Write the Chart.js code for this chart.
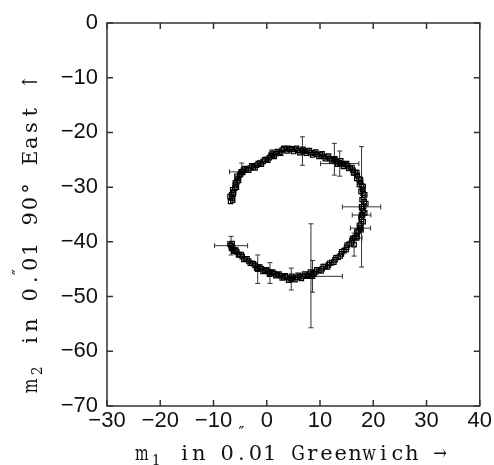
<!DOCTYPE html>
<html>
<head>
<meta charset="utf-8">
<script src="https://cdn.jsdelivr.net/npm/chart.js@4"></script>
<style>
  html, body { margin: 0; padding: 0; background: #fff; }
  #wrap { width: 494px; height: 465px; }
</style>
</head>
<body>
<div id="wrap"><canvas id="canvasDiv"></canvas></div>
<script>
//axis setup
var xTicks = [-30, -20, -10, 0, 10, 20, 30, 40];
var yTicks = [-70, -60, -50, -40, -30, -20, -10, 0];
var xTitle = "m\u2081 in 0.\u203301 Greenwich \u2192";
var yTitle = "m\u2082 in 0.\u203301 90\u00b0 East \u2191";

//pole track (0.01 arcsec)
var m1 = [-6.8, -6.5, -6.6, -6.2, -6.0, -5.9, -5.6, -5.4, -5.1, -4.8, -4.4,
  -3.8, -3.1, -2.5, -1.9, -1.3, -0.7, -0.1, 0.5, 1.1, 1.7, 2.3, 2.9, 3.5,
  4.1, 4.7, 5.3, 5.9, 6.5, 7.1, 7.7, 8.3, 8.9, 9.5, 10.1, 10.7, 11.3, 11.9,
  12.5, 13.0, 13.6, 14.1, 14.7, 15.2, 15.7, 16.2, 16.6, 17.0, 17.3, 17.6,
  17.8, 18.0, 18.1, 18.2, 18.3, 18.2, 18.1, 18.0, 17.8, 17.7, 17.5, 17.2,
  16.9, 16.5, 16.0, 15.5, 15.0, 14.5, 14.0, 13.4, 12.8, 12.2, 11.6, 11.0,
  10.4, 9.8, 9.2, 8.6, 8.0, 7.4, 6.8, 6.2, 5.6, 5.0, 4.4, 3.8, 3.2, 2.6,
  2.0, 1.4, 0.8, 0.2, -0.4, -1.0, -1.6, -2.2, -2.8, -3.4, -4.0, -4.6, -5.1,
  -5.6, -6.0, -6.4, -6.7, -6.5];
var m2 = [-32.6, -32.0, -31.4, -30.9, -30.2, -29.6, -29.0, -28.4, -27.8, -27.2, -26.9,
  -26.8, -26.5, -26.3, -26.0, -25.6, -25.3, -24.9, -24.6, -24.2, -23.9, -23.6, -23.2, -23.0,
  -22.9, -23.0, -23.1, -23.3, -23.3, -23.5, -23.4, -23.7, -23.8, -24.0, -24.1, -24.4, -24.5, -24.8,
  -25.0, -25.3, -25.5, -25.7, -25.9, -26.1, -26.5, -26.9, -27.4, -27.9, -28.5, -29.1,
  -29.7, -30.4, -31.1, -31.9, -32.7, -33.5, -34.3, -35.1, -35.9, -36.7, -37.4, -38.0,
  -38.6, -39.2, -39.8, -40.4, -41.0, -41.6, -42.2, -42.8, -43.3, -43.8, -44.2, -44.5,
  -44.9, -45.2, -45.5, -45.7, -45.9, -46.1, -46.3, -46.4, -46.5, -46.6, -46.7, -46.5, -46.4, -46.2,
  -46.0, -45.8, -45.6, -45.4, -45.2, -44.9, -44.6, -44.3, -43.9, -43.5, -43.1, -42.7, -42.3,
  -41.9, -41.5, -41.1, -40.7, -40.3];

//in-between epochs, same track
var m1b = [-6.4, -6.9, -6.3, -6.4, -5.7, -5.9, -5.3, -5.6, -4.9, -4.5, -4.1,
  -3.4, -2.8, -2.2, -1.6, -1.0, -0.4, 0.2, 0.8, 1.4, 2.0, 2.6, 3.2, 3.8,
  4.4, 5.0, 5.6, 6.2, 6.8, 7.4, 8.0, 8.6, 9.2, 9.8, 10.4, 11.0, 11.6, 12.2,
  12.8, 13.3, 13.9, 14.4, 15.0, 15.4, 16.0, 16.3, 16.9, 16.9, 17.6, 17.4,
  18.1, 17.7, 18.4, 17.9, 18.6, 17.9, 18.4, 17.7, 18.1, 17.4, 17.7, 16.9,
  17.0, 16.1, 15.9, 15.1, 14.9, 14.1, 13.8, 13.0, 12.6, 11.8, 11.4, 10.6,
  10.2, 9.4, 8.9, 8.2, 7.7, 7.1, 6.5, 5.9, 5.3, 4.7, 4.1, 3.5, 2.9, 2.3,
  1.7, 1.1, 0.5, -0.1, -0.7, -1.3, -1.9, -2.5, -3.1, -3.7, -4.3, -4.8, -5.3,
  -5.8, -6.2, -6.6, -6.9];
var m2b = [-32.4, -31.7, -31.3, -30.5, -30.0, -29.2, -28.8, -28.0, -27.6, -27.3, -26.6,
  -26.9, -26.1, -26.5, -25.7, -25.8, -25.0, -25.1, -24.2, -24.4, -23.5, -23.8, -22.9, -23.4,
  -23.1, -23.5, -22.9, -23.7, -23.1, -23.8, -23.3, -24.1, -23.6, -24.4, -23.9, -24.8, -24.3, -25.2,
  -24.8, -25.8, -25.2, -26.2, -25.7, -26.6, -26.4, -27.4, -27.3, -28.4, -28.6, -29.5,
  -29.9, -30.8, -31.4, -32.3, -33.0, -33.9, -34.7, -35.5, -36.3, -37.0, -37.8, -38.2,
  -39.0, -39.4, -40.2, -40.6, -41.4, -41.8, -42.6, -42.9, -43.7, -43.9, -44.6, -44.5,
  -45.3, -45.1, -45.9, -45.5, -46.3, -45.9, -46.7, -46.1, -46.9, -46.3, -47.0, -46.2, -46.6, -45.9,
  -46.2, -45.5, -45.9, -45.1, -45.4, -44.6, -44.8, -44.0, -43.9, -43.1, -43.2, -42.3, -42.4,
  -41.5, -41.7, -41.2, -40.4];

//error bars: point, minus/plus extents
var errX = [6.7, 12.7, 13.7, 17.8, 17.8, 17.6, 16.9, 8.3, 8.6, -6.7, -1.7, 0.6, 4.6, -4.7, 1.0, 16.4];
var errY = [-23.4, -24.9, -25.7, -33.6, -35.1, -37.5, -39.3, -46.2, -46.3, -40.7, -45.0, -45.7, -46.8, -27.2, -23.8, -40.5];
var errXm = [0, 0, 3.6, 3.6, 1.75, 1.9, 1.0, 0, 0.6, 3.1, 0, 0, 0, 2.3, 0, 0];
var errXp = [0, 0, 3.6, 3.6, 1.75, 1.9, 1.0, 0, 5.6, 3.1, 0, 0, 0, 0.5, 0, 0];
var errYm = [2.6, 2.9, 2.3, 11.0, 0, 0, 0, 9.5, 2.9, 1.7, 2.6, 1.9, 2.0, 0.3, 0.6, 2.1];
var errYp = [2.6, 2.9, 2.3, 11.0, 0, 0, 0, 9.5, 2.9, 1.7, 2.6, 1.9, 2.0, 1.6, 0.6, 2.1];

var track = [];
for (let i = 0; i < m1.length; i++) track.push({ x: m1[i], y: m2[i] });
for (let i = 0; i < m1b.length; i++) track.push({ x: m1b[i], y: m2b[i] });
var errPts = [];
for (let i = 0; i < errX.length; i++) errPts.push({ x: errX[i], y: errY[i] });

function minus(v) {
  return String(v).replace("-", "\u2212");
}

//typewriter look: serif glyphs set in fixed cells
function drawMono(ctx, text, cx, base, pitch, size, raise, shift) {
  const chars = Array.from(text);
  const cells = chars.filter((c) => c != "\u2033").length;
  let x = cx - (cells * pitch) / 2;
  const face = "'DejaVu Serif', 'Liberation Serif', serif";
  chars.forEach((c) => {
    let s = size;
    let dy = 0;
    let ch = c;
    let adv = pitch;
    let cxCell = x + pitch / 2;
    if (c == "\u2081" || c == "\u2082") {
      ch = c == "\u2081" ? "1" : "2";
      s = size * 0.66;
      dy = 5;
    }
    if (c == "\u2033") {
      s = size * 0.75;
      dy = -raise;
      adv = 0;
      cxCell = x + shift;
    }
    ctx.font = s + "px " + face;
    const w = ctx.measureText(ch).width;
    ctx.save();
    ctx.translate(cxCell, base + dy);
    if (w > pitch * 0.96) ctx.scale((pitch * 0.96) / w, 1);
    ctx.fillText(ch, 0, 0);
    ctx.restore();
    x += adv;
  });
}

//frame, inward ticks, error bars, titles
const framePlugin = {
  id: "frame",
  beforeDatasetsDraw(chart) {
    const ctx = chart.ctx;
    const xs = chart.scales.x;
    const ys = chart.scales.y;
    ctx.save();
    ctx.strokeStyle = "#333";
    ctx.lineWidth = 1;
    const cap = 2.5;
    for (let i = 0; i < errX.length; i++) {
      const px = xs.getPixelForValue(errX[i]);
      const py = ys.getPixelForValue(errY[i]);
      if (errXm[i] || errXp[i]) {
        const x0 = xs.getPixelForValue(errX[i] - errXm[i]);
        const x1 = xs.getPixelForValue(errX[i] + errXp[i]);
        ctx.beginPath();
        ctx.moveTo(x0, py); ctx.lineTo(x1, py);
        ctx.moveTo(x0, py - cap); ctx.lineTo(x0, py + cap);
        ctx.moveTo(x1, py - cap); ctx.lineTo(x1, py + cap);
        ctx.stroke();
      }
      if (errYm[i] || errYp[i]) {
        const y0 = ys.getPixelForValue(errY[i] - errYm[i]);
        const y1 = ys.getPixelForValue(errY[i] + errYp[i]);
        ctx.beginPath();
        ctx.moveTo(px, y0); ctx.lineTo(px, y1);
        ctx.moveTo(px - cap, y0); ctx.lineTo(px + cap, y0);
        ctx.moveTo(px - cap, y1); ctx.lineTo(px + cap, y1);
        ctx.stroke();
      }
    }
    ctx.restore();
  },
  afterDraw(chart) {
    const ctx = chart.ctx;
    const a = chart.chartArea;
    const xs = chart.scales.x;
    const ys = chart.scales.y;
    const tl = 6;
    ctx.save();
    ctx.strokeStyle = "#333";
    ctx.lineWidth = 1.5;
    ctx.strokeRect(a.left, a.top, a.right - a.left, a.bottom - a.top);
    ctx.beginPath();
    xTicks.forEach((v) => {
      const p = xs.getPixelForValue(v);
      ctx.moveTo(p, a.bottom); ctx.lineTo(p, a.bottom - tl);
      ctx.moveTo(p, a.top); ctx.lineTo(p, a.top + tl);
    });
    yTicks.forEach((v) => {
      const p = ys.getPixelForValue(v);
      ctx.moveTo(a.left, p); ctx.lineTo(a.left + tl, p);
      ctx.moveTo(a.right, p); ctx.lineTo(a.right - tl, p);
    });
    ctx.stroke();

    ctx.fillStyle = "#111";
    ctx.textAlign = "center";
    ctx.textBaseline = "alphabetic";
    drawMono(ctx, xTitle, 291, 460, 14.2, 21, 22, -7);
    ctx.translate(37, 234);
    ctx.rotate(-Math.PI / 2);
    drawMono(ctx, yTitle, 0, 0, 15.2, 21, 13, 0);
    ctx.restore();
  },
};

var chart = new Chart(document.getElementById("canvasDiv"), {
  type: "scatter",
  data: {
    datasets: [
      {
        label: "track",
        data: track,
        pointStyle: "rect",
        pointRadius: 3.1,
        borderWidth: 1.2,
        borderColor: "#000",
        backgroundColor: "rgba(255,255,255,0)",
      },
      {
        label: "err",
        data: errPts,
        pointStyle: "rect",
        pointRadius: 3.1,
        borderWidth: 1.2,
        borderColor: "#000",
        backgroundColor: "rgba(255,255,255,0)",
      },
    ],
  },
  options: {
    responsive: true,
    maintainAspectRatio: false,
    animation: false,
    layout: { padding: { top: 23, right: 13, left: 0, bottom: 0 } },
    plugins: { legend: { display: false }, tooltip: { enabled: false } },
    scales: {
      x: {
        type: "linear",
        min: -30,
        max: 40,
        grid: { display: false, drawTicks: false },
        border: { display: false },
        afterFit: (s) => { s.height = 59; },
        afterBuildTicks: (s) => { s.ticks = xTicks.map((v) => ({ value: v })); },
        ticks: {
          padding: 2,
          color: "#111",
          font: { family: "'Liberation Sans', Arial, sans-serif", size: 22 },
          callback: (v) => minus(v),
        },
      },
      y: {
        type: "linear",
        min: -70,
        max: 0,
        grid: { display: false, drawTicks: false },
        border: { display: false },
        afterFit: (s) => { s.width = 107; },
        afterBuildTicks: (s) => { s.ticks = yTicks.map((v) => ({ value: v })); },
        ticks: {
          padding: 9,
          color: "#111",
          font: { family: "'Liberation Sans', Arial, sans-serif", size: 22 },
          callback: (v) => minus(v),
        },
      },
    },
  },
  plugins: [framePlugin],
});
</script>
</body>
</html>
